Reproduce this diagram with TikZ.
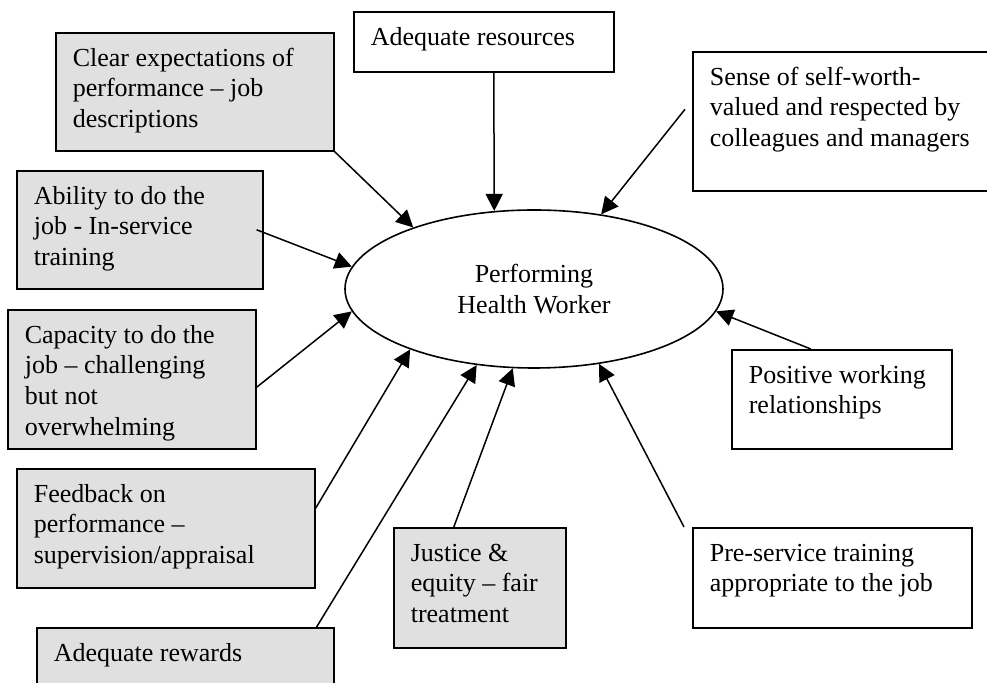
\documentclass[tikz,border=0pt]{standalone}
\usepackage{fontspec}
\setmainfont{Liberation Serif}
\usepackage{tikz}
\usetikzlibrary{shapes.geometric, arrows.meta}

% text of a box, set from the top left
\newcommand{\boxtxt}[3]{\parbox[t][#2][t]{#1}{\strut#3}}

\tikzset{
  wbox/.style={draw, line width=0.8pt, fill=white, anchor=north west,
    inner xsep=8.5pt, inner ysep=6pt},
  gbox/.style={wbox, fill=black!12},
  arr/.style={line width=0.75pt, -{Triangle[length=8.5pt,width=8.5pt]}}
}

\begin{document}
\begin{tikzpicture}[x=0.5pt, y=-0.5pt, font=\fontsize{13}{15.3}\selectfont]

\useasboundingbox (0,0) rectangle (987,683);
\clip (0,0) rectangle (987,683);

% centre
\node[draw, ellipse, line width=0.8pt, minimum width=189pt, minimum height=79pt,
  inner sep=0pt, align=center] (hw) at (534,289) {Performing\\Health Worker};

% boxes on the left
\node[gbox] (clear) at (55,32)
  {\boxtxt{122pt}{47pt}{Clear expectations of\\performance – job\\descriptions}};
\node[gbox] (ability) at (16,170)
  {\boxtxt{106pt}{47pt}{Ability to do the\\job - In-service\\training}};
\node[gbox] (capacity) at (7,309)
  {\boxtxt{107pt}{57.5pt}{Capacity to do the\\job – challenging\\but not\\overwhelming}};
\node[gbox] (feedback) at (16,468)
  {\boxtxt{132pt}{47.5pt}{Feedback on\\performance –\\supervision/appraisal}};
\node[gbox] (rewards) at (36,627)
  {\boxtxt{131.5pt}{28pt}{Adequate rewards}};
\node[gbox] (justice) at (393,527)
  {\boxtxt{69pt}{48pt}{Justice \&\\equity – fair\\treatment}};

% boxes on the top and right
\node[wbox] (res) at (353,11)
  {\boxtxt{113pt}{18pt}{Adequate resources}};
\node[wbox] (sense) at (692,51)
  {\boxtxt{137pt}{57.5pt}{Sense of self-worth-\\valued and respected by\\colleagues and managers}};
\node[wbox] (positive) at (731,349)
  {\boxtxt{93pt}{37.5pt}{Positive working\\relationships}};
\node[wbox] (pre) at (692,527)
  {\boxtxt{122.5pt}{38pt}{Pre-service training\\appropriate to the job}};

% arrows into the centre
\draw[arr] (clear.south east) -- (hw.153);
\draw[arr] ([xshift=5pt]res.south) -- (hw.117);
\draw[arr] ([xshift=-3.5pt, yshift=6pt]sense.west) -- (hw.48);
\draw[arr] ([xshift=-3.5pt]ability.east) -- (hw.173);
\draw[arr] ([yshift=-4pt]capacity.east) -- (hw.187);
\draw[arr] ([yshift=10pt]feedback.east) -- (hw.206);
\draw[arr] ([xshift=-9pt]rewards.north east) -- (hw.233);
\draw[arr] ([xshift=-13pt]justice.north) -- (hw.255);
\draw[arr] ([xshift=-4pt]pre.north west) -- (hw.311);
\draw[arr] ([xshift=-15.5pt]positive.north) -- (hw.353);

\end{tikzpicture}
\end{document}
